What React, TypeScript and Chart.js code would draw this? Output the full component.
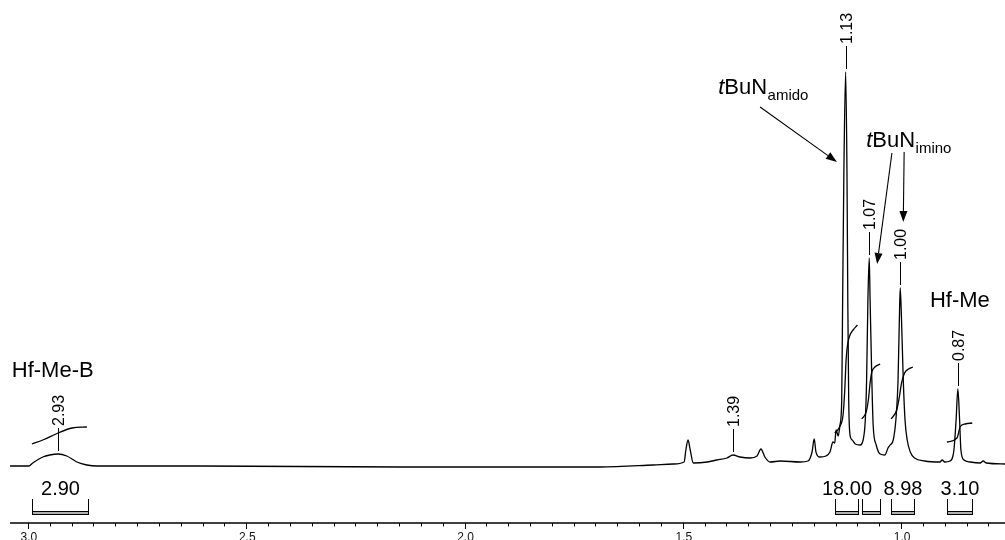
import React, { useEffect, useRef } from 'react';
import { Chart, registerables } from 'chart.js';

Chart.register(...registerables);

// ---- Spectrum trace (chemical shift in ppm, intensity in arbitrary units) ----
const specPpm = [
  3.041, 2.998, 2.989, 2.966, 2.950, 2.931, 2.911, 2.888, 2.865, 2.842,
  2.606, 2.148, 1.690, 1.568, 1.522, 1.497, 1.493, 1.488, 1.483, 1.476,
  1.444, 1.422, 1.399, 1.385, 1.369, 1.346, 1.330, 1.321, 1.312, 1.300,
  1.277, 1.231, 1.213, 1.204, 1.199, 1.195, 1.186, 1.172, 1.163, 1.156,
  1.152, 1.149, 1.144, 1.140, 1.136, 1.134, 1.131, 1.127, 1.124, 1.122,
  1.120, 1.117, 1.112, 1.105, 1.094, 1.087, 1.082, 1.079, 1.076, 1.073,
  1.071, 1.067, 1.064, 1.057, 1.048, 1.037, 1.030, 1.025, 1.018, 1.012,
  1.007, 1.004, 1.002, 0.999, 0.995, 0.991, 0.986, 0.979, 0.969, 0.946,
  0.911, 0.906, 0.900, 0.888, 0.879, 0.874, 0.870, 0.866, 0.863, 0.856,
  0.842, 0.819, 0.812, 0.805, 0.762,
];
const specInt = [
  -1, -1, 2, 8, 10, 11, 9, 3, 0, -1,
  -1, -2, -2, 0, 1, 3, 15, 25, 15, 2,
  3, 5, 7, 10, 8, 7, 9, 16, 8, 3,
  4, 3, 4, 13, 26, 13, 8, 9, 13, 23,
  22, 35, 29, 40, 65, 160, 295, 393, 295, 160,
  65, 30, 25, 21, 20, 25, 45, 85, 165, 207,
  165, 85, 40, 20, 11, 10, 17, 20, 25, 45,
  85, 145, 177, 145, 85, 45, 25, 13, 7, 4,
  3, 5, 3, 4, 15, 45, 76, 45, 15, 5,
  3, 2, 4, 2, 1,
];

// ---- Integral traces [ppm, value] ----
const integral293 = [[2.991, 21], [2.966, 25], [2.931, 32], [2.899, 37], [2.865, 38]];
const integral113 = [[1.152, 32], [1.141, 38], [1.133, 50], [1.129, 75], [1.126, 105], [1.122, 122], [1.117, 130], [1.110, 135], [1.100, 140]];
const integral107 = [[1.090, 46], [1.080, 53], [1.075, 65], [1.071, 82], [1.067, 93], [1.060, 98], [1.048, 101]];
const integral100 = [[1.023, 46], [1.010, 55], [1.004, 68], [0.999, 82], [0.992, 92], [0.983, 96], [0.973, 98]];
const integral087 = [[0.895, 23], [0.872, 27], [0.869, 31], [0.865, 38], [0.853, 41], [0.837, 42]];

// ---- Integration ranges ----
const intFrom = [2.991, 1.151, 1.089, 1.023, 0.895];
const intTo = [2.863, 1.099, 1.048, 0.970, 0.837];
const intLabels = ['2.90', '18.00', '', '8.98', '3.10'];

// ---- Peak picks ----
const peakLabels = ['2.93', '1.39', '1.13', '1.07', '1.00', '0.87'];
const peakPpm = [2.931, 1.385, 1.127, 1.073, 1.002, 0.870];

// ---- Axis ----
const axisStart = 3.041;
const axisEnd = 0.762;
const tickStep = 0.05;
const majorTicks = [3.0, 2.5, 2.0, 1.5, 1.0];
const tickLabels = ['3.0', '2.5', '2.0', '1.5', '1.0'];

// ---- Annotations ----
const annPrefix = ['t', 't', '', ''];
const annMain = ['BuN', 'BuN', 'Hf-Me', 'Hf-Me-B'];
const annSub = ['amido', 'imino', '', ''];
const annPpm = [1.419, 1.080, 0.934, 3.037];
const annVal = [371, 318, 158, 88];

const arrowFrom = [[1.323, 358], [1.021, 312], [0.993, 313]];
const arrowTo = [[1.147, 303], [1.055, 201], [0.995, 243]];

const FONT = '"Liberation Sans", Arial, Helvetica, sans-serif';

const overlay = {
  id: 'nmrOverlay',
  afterDatasetsDraw(chart: any) {
    const ctx: CanvasRenderingContext2D = chart.ctx;
    const xs = chart.scales.x;
    const ys = chart.scales.y;
    const px = (p: number) => xs.getPixelForValue(p);
    const py = (v: number) => ys.getPixelForValue(v);
    ctx.save();
    ctx.fillStyle = '#000';
    ctx.strokeStyle = '#000';

    // Axis line
    const axisY = 523;
    ctx.lineWidth = 1.6;
    ctx.beginPath();
    ctx.moveTo(px(axisStart), axisY);
    ctx.lineTo(px(axisEnd), axisY);
    ctx.stroke();

    // Ticks
    ctx.lineWidth = 1;
    for (let i = 0; i < 200; i++) {
      const p = Math.round((3.0 - i * tickStep) * 1000) / 1000;
      if (p < axisEnd) break;
      const major = majorTicks.some((m) => Math.abs(m - p) < 1e-6);
      const x = Math.round(px(p)) + 0.5;
      ctx.beginPath();
      ctx.moveTo(x, axisY);
      ctx.lineTo(x, axisY + (major ? 6 : 3.5));
      ctx.stroke();
    }
    ctx.font = `12px ${FONT}`;
    ctx.textAlign = 'center';
    ctx.textBaseline = 'alphabetic';
    ctx.fillStyle = '#111';
    majorTicks.forEach((m, i) => {
      ctx.fillText(tickLabels[i], px(m) + 1, 540.5);
    });

    // Integration brackets
    ctx.fillStyle = '#000';
    for (let i = 0; i < intFrom.length; i++) {
      const x1 = Math.round(px(intFrom[i])) + 0.5;
      const x2 = Math.round(px(intTo[i])) + 0.5;
      ctx.fillStyle = '#b0b0b0';
      ctx.fillRect(x1, 511.5, x2 - x1, 3);
      ctx.strokeStyle = '#000';
      ctx.lineWidth = 1;
      ctx.beginPath();
      ctx.moveTo(x1, 499);
      ctx.lineTo(x1, 515);
      ctx.moveTo(x2, 499);
      ctx.lineTo(x2, 515);
      ctx.moveTo(x1, 511.5);
      ctx.lineTo(x2, 511.5);
      ctx.moveTo(x1, 514.5);
      ctx.lineTo(x2, 514.5);
      ctx.stroke();
      if (intLabels[i]) {
        ctx.fillStyle = '#000';
        ctx.font = `20px ${FONT}`;
        ctx.textAlign = 'center';
        ctx.textBaseline = 'alphabetic';
        ctx.fillText(intLabels[i], (x1 + x2) / 2, 495);
      }
    }

    // Peak labels
    ctx.fillStyle = '#000';
    ctx.strokeStyle = '#000';
    ctx.lineWidth = 1;
    peakLabels.forEach((lab, i) => {
      const p = peakPpm[i];
      let apex = -Infinity;
      specPpm.forEach((q, k) => {
        if (Math.abs(q - p) <= 0.006 && specInt[k] > apex) apex = specInt[k];
      });
      const x = Math.round(px(p)) + 0.5;
      const y0 = py(apex) - 3;
      ctx.beginPath();
      ctx.moveTo(x, y0);
      ctx.lineTo(x, y0 - 23);
      ctx.stroke();
      ctx.save();
      ctx.translate(x, y0 - 25);
      ctx.rotate(-Math.PI / 2);
      ctx.font = `16px ${FONT}`;
      ctx.textAlign = 'left';
      ctx.textBaseline = 'alphabetic';
      ctx.fillText(lab, 0, (16 * 0.716) / 2);
      ctx.restore();
    });

    // Arrows
    arrowFrom.forEach((f, i) => {
      const t = arrowTo[i];
      const x1 = px(f[0]), y1 = py(f[1]);
      const x2 = px(t[0]), y2 = py(t[1]);
      const ang = Math.atan2(y2 - y1, x2 - x1);
      const L = 11, W = 4;
      const bx = x2 - L * Math.cos(ang), by = y2 - L * Math.sin(ang);
      ctx.lineWidth = 1.1;
      ctx.beginPath();
      ctx.moveTo(x1, y1);
      ctx.lineTo(bx, by);
      ctx.stroke();
      ctx.beginPath();
      ctx.moveTo(x2, y2);
      ctx.lineTo(bx + W * Math.sin(ang), by - W * Math.cos(ang));
      ctx.lineTo(bx - W * Math.sin(ang), by + W * Math.cos(ang));
      ctx.closePath();
      ctx.fill();
    });

    // Text annotations
    annMain.forEach((main, i) => {
      let x = px(annPpm[i]);
      const y = py(annVal[i]);
      ctx.textAlign = 'left';
      ctx.textBaseline = 'alphabetic';
      if (annPrefix[i]) {
        ctx.font = `italic 22px ${FONT}`;
        ctx.fillText(annPrefix[i], x, y);
        x += ctx.measureText(annPrefix[i]).width;
      }
      ctx.font = `22px ${FONT}`;
      ctx.fillText(main, x, y);
      x += ctx.measureText(main).width;
      if (annSub[i]) {
        ctx.font = `15px ${FONT}`;
        ctx.fillText(annSub[i], x + 0.5, y + 6);
      }
    });

    ctx.restore();
  },
};

export default function App() {
  const canvasRef = useRef<HTMLCanvasElement | null>(null);

  useEffect(() => {
    if (!canvasRef.current) return;
    const toXY = (arr: number[][]) => arr.map((d) => ({ x: d[0], y: d[1] }));
    const lineStyle = {
      borderColor: '#000',
      borderWidth: 1.3,
      pointRadius: 0,
      fill: false,
      cubicInterpolationMode: 'monotone' as const,
    };
    const chart = new Chart(canvasRef.current, {
      type: 'line',
      data: {
        datasets: [
          { ...lineStyle, label: 'spectrum', data: specPpm.map((p, i) => ({ x: p, y: specInt[i] })) },
          { ...lineStyle, label: 'int 2.93', data: toXY(integral293) },
          { ...lineStyle, label: 'int 1.13', data: toXY(integral113) },
          { ...lineStyle, label: 'int 1.07', data: toXY(integral107) },
          { ...lineStyle, label: 'int 1.00', data: toXY(integral100) },
          { ...lineStyle, label: 'int 0.87', data: toXY(integral087) },
        ],
      },
      options: {
        responsive: false,
        animation: false,
        events: [],
        layout: { padding: 0 },
        plugins: { legend: { display: false }, tooltip: { enabled: false } },
        scales: {
          x: { type: 'linear', reverse: true, min: 0.762, max: 3.064, display: false },
          y: { type: 'linear', min: -75, max: 465, display: false },
        },
      },
      plugins: [overlay],
    });
    return () => chart.destroy();
  }, []);

  return (
    <div style={{ position: 'absolute', left: 0, top: 0, width: 1005, height: 540, background: '#fff' }}>
      <canvas ref={canvasRef} width={1005} height={540} style={{ display: 'block' }} />
    </div>
  );
}
